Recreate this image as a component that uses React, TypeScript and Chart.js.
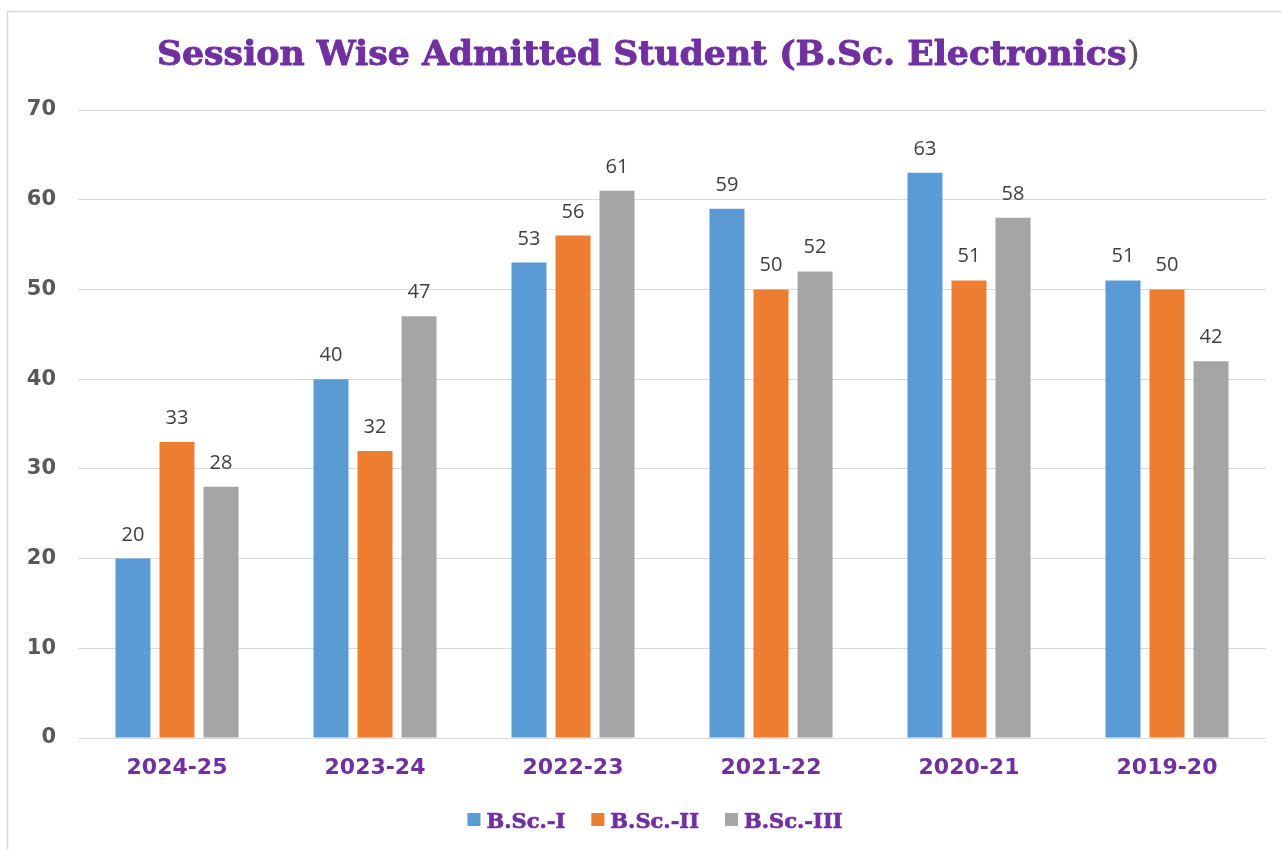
import React, { useEffect, useRef } from "react";
import { Chart, registerables } from "chart.js";

Chart.register(...registerables);

const sessions = ["2024-25", "2023-24", "2022-23", "2021-22", "2020-21", "2019-20"];
const bsc1 = [20, 40, 53, 59, 63, 51];
const bsc2 = [33, 32, 56, 50, 51, 50];
const bsc3 = [28, 47, 61, 52, 58, 42];
const seriesNames = ["B.Sc.-I", "B.Sc.-II", "B.Sc.-III"];
const seriesColors = ["#5B9BD5", "#ED7D31", "#A5A5A5"];
const titleMain = "Session Wise Admitted Student (B.Sc. Electronics";
const titleClose = ")";
const yMin = 0;
const yMax = 70;
const yStep = 10;

const PURPLE = "#7030A0";

const framePlugin = {
  id: "frame",
  beforeDraw(chart: any) {
    const ctx = chart.ctx;
    ctx.save();
    ctx.fillStyle = "#ffffff";
    ctx.fillRect(0, 0, chart.width, chart.height);
    ctx.strokeStyle = "#D9D9D9";
    ctx.lineWidth = 1.5;
    ctx.beginPath();
    ctx.moveTo(7.5, chart.height);
    ctx.lineTo(7.5, 11.5);
    ctx.lineTo(chart.width, 11.5);
    ctx.stroke();
    ctx.restore();
  },
};

const titlePlugin = {
  id: "customTitle",
  afterDraw(chart: any) {
    const ctx = chart.ctx;
    ctx.save();
    const boldFont = "bold 33px 'DejaVu Serif'";
    const thinFont = "33px 'DejaVu Serif'";
    ctx.font = boldFont;
    const w1 = ctx.measureText(titleMain).width;
    ctx.font = thinFont;
    const w2 = ctx.measureText(titleClose).width;
    const total = w1 + w2;
    const left = 157;
    const targetWidth = 983;
    const sx = targetWidth / total;
    const baseY = 65;
    ctx.translate(left, baseY);
    ctx.scale(sx, 1);
    ctx.textBaseline = "alphabetic";
    ctx.textAlign = "left";
    ctx.font = boldFont;
    ctx.fillStyle = PURPLE;
    ctx.strokeStyle = PURPLE;
    ctx.lineWidth = 0.9;
    ctx.lineJoin = "round";
    ctx.fillText(titleMain, 0, 0);
    ctx.strokeText(titleMain, 0, 0);
    ctx.font = thinFont;
    ctx.fillStyle = "#595959";
    ctx.fillText(titleClose, w1, 0);
    ctx.restore();
  },
};

const valueLabelPlugin = {
  id: "valueLabels",
  afterDatasetsDraw(chart: any) {
    const ctx = chart.ctx;
    ctx.save();
    ctx.font = "20px 'Open Sans'";
    ctx.fillStyle = "#404040";
    ctx.textAlign = "center";
    ctx.textBaseline = "alphabetic";
    chart.data.datasets.forEach((ds: any, i: number) => {
      const meta = chart.getDatasetMeta(i);
      meta.data.forEach((el: any, j: number) => {
        ctx.fillText(String(ds.data[j]), el.x, el.y - 18);
      });
    });
    ctx.restore();
  },
};

const legendPlugin = {
  id: "customLegend",
  afterDraw(chart: any) {
    const ctx = chart.ctx;
    ctx.save();
    ctx.font = "bold 21px 'DejaVu Serif'";
    const box = 13;
    const gapBoxText = 6;
    const gapItems = 26;
    const widths = seriesNames.map((n) => ctx.measureText(n).width);
    let total = 0;
    widths.forEach((w, i) => {
      total += box + gapBoxText + w + (i < widths.length - 1 ? gapItems : 0);
    });
    let x = 655 - total / 2;
    const baseY = 828;
    ctx.textBaseline = "alphabetic";
    ctx.textAlign = "left";
    ctx.lineWidth = 0.7;
    ctx.lineJoin = "round";
    seriesNames.forEach((n, i) => {
      ctx.fillStyle = seriesColors[i];
      ctx.fillRect(x, 813, box, box);
      x += box + gapBoxText;
      ctx.fillStyle = PURPLE;
      ctx.strokeStyle = PURPLE;
      ctx.fillText(n, x, baseY);
      ctx.strokeText(n, x, baseY);
      x += widths[i] + gapItems;
    });
    ctx.restore();
  },
};

export default function App() {
  const ref = useRef<HTMLCanvasElement | null>(null);

  useEffect(() => {
    if (!ref.current) return;
    const seriesData = [bsc1, bsc2, bsc3];
    const chart = new Chart(ref.current, {
      type: "bar",
      data: {
        labels: sessions,
        datasets: seriesNames.map((name, i) => ({
          label: name,
          data: seriesData[i],
          backgroundColor: seriesColors[i],
          borderWidth: 0,
          categoryPercentage: 0.667,
          barPercentage: 0.795,
        })),
      },
      options: {
        responsive: false,
        animation: false,
        devicePixelRatio: 1,
        layout: { padding: { left: 8, top: 110, right: 16, bottom: 0 } },
        plugins: {
          legend: { display: false },
          title: { display: false },
          tooltip: { enabled: false },
        },
        scales: {
          x: {
            grid: { display: false, drawTicks: false },
            border: { display: false },
            ticks: {
              autoSkip: false,
              maxRotation: 0,
              minRotation: 0,
              padding: 17,
              color: PURPLE,
              font: { family: "'DejaVu Sans'", size: 22, weight: "bold" },
            },
            afterFit(scale: any) {
              scale.height = 111;
            },
          },
          y: {
            min: yMin,
            max: yMax,
            grid: { color: "#D9D9D9", lineWidth: 1, drawTicks: false },
            border: { display: false },
            ticks: {
              stepSize: yStep,
              padding: 22,
              color: "#595959",
              font: { family: "'DejaVu Sans'", size: 21, weight: "bold" },
            },
            afterFit(scale: any) {
              scale.width = 70;
            },
          },
        },
      },
      plugins: [framePlugin, titlePlugin, valueLabelPlugin, legendPlugin],
    });
    return () => chart.destroy();
  }, []);

  return (
    <div style={{ position: "fixed", left: 0, top: 0, width: 1282, height: 849, background: "#fff" }}>
      <canvas ref={ref} width={1282} height={849} style={{ display: "block" }} />
    </div>
  );
}
